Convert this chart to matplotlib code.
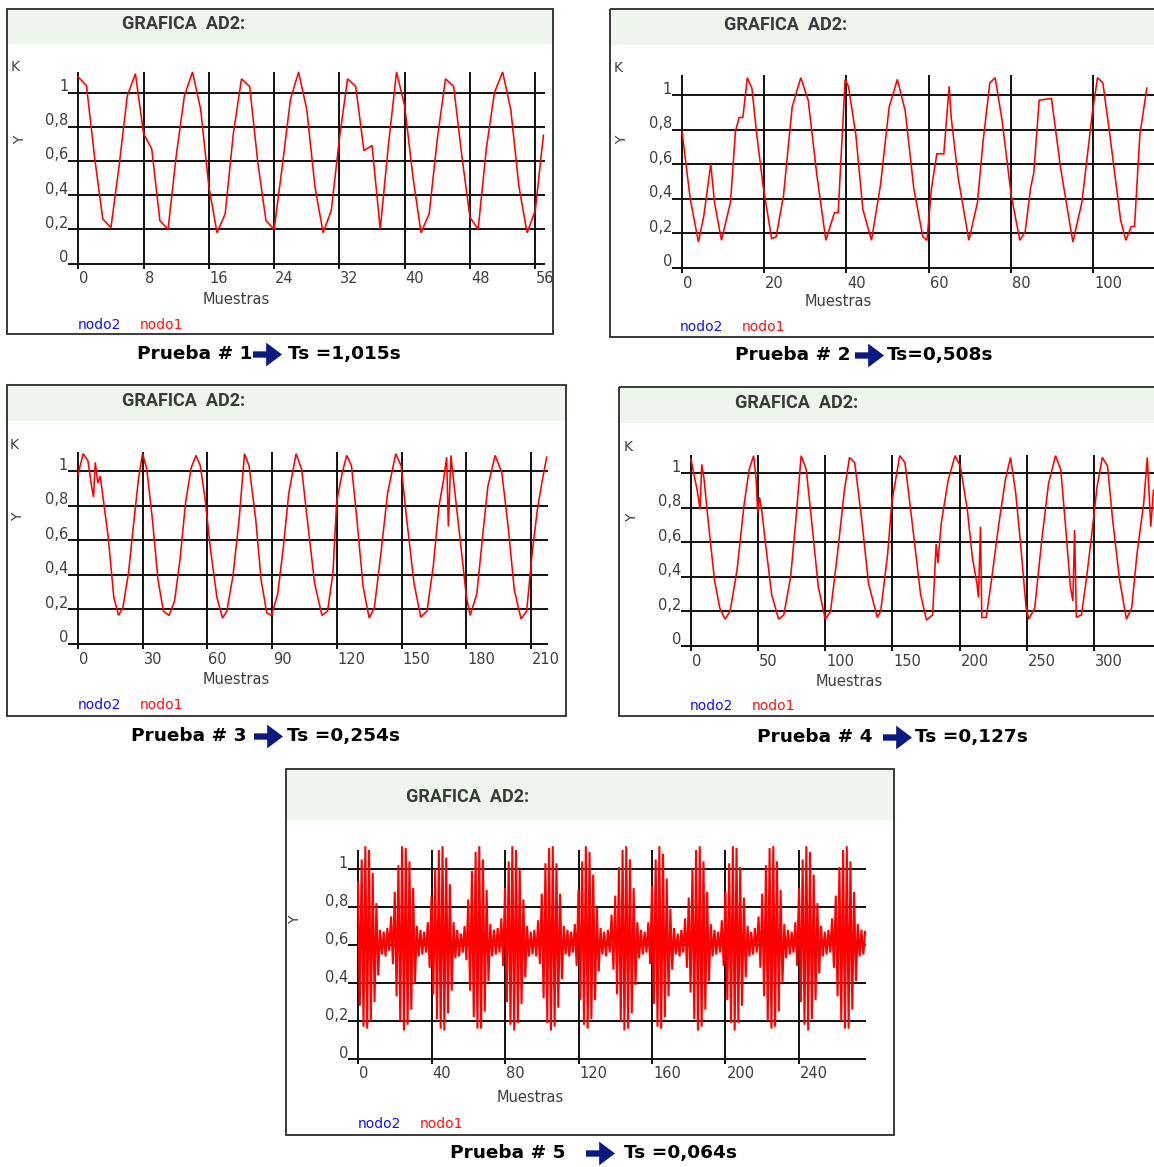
import matplotlib
matplotlib.use("Agg")
import matplotlib.pyplot as plt
from matplotlib.patches import Rectangle, FancyArrowPatch
import numpy as np

# ---------------- data ----------------
yticks = [0, 0.2, 0.4, 0.6, 0.8, 1.0]
ytick_labels = ["0", "0,2", "0,4", "0,6", "0,8", "1"]

p1_xticks = [0, 8, 16, 24, 32, 40, 48, 56]
p1_y = [1.09, 1.04, 0.62, 0.26, 0.21, 0.57, 0.98, 1.11, 0.76, 0.67,
        0.25, 0.20, 0.63, 0.98, 1.12, 0.90, 0.45, 0.18, 0.29, 0.76,
        1.08, 1.035, 0.59, 0.25, 0.20, 0.57, 0.96, 1.12, 0.90, 0.45,
        0.18, 0.31, 0.73, 1.08, 1.035, 0.66, 0.69, 0.20, 0.69, 1.12,
        0.92, 0.51, 0.18, 0.29, 0.73, 1.08, 1.035, 0.63, 0.27, 0.20,
        0.67, 1.00, 1.12, 0.90, 0.45, 0.18, 0.31, 0.75]

p2_xticks = [0, 20, 40, 60, 80, 100]
p2_x = [0, 2, 4, 5.3, 7, 7.9, 9.6, 11.8, 13, 13.9,
        14.8, 15.9, 17, 18.2, 19.7, 21.8, 22.9, 24.7, 26.8, 28.9,
        30.7, 32.8, 35, 37.1, 38, 39.7, 40.5, 42.3, 44, 46.1,
        48.3, 50.4, 52.4, 54.3, 56.4, 58.6, 59.6, 60.7, 62, 63.7,
        65, 65.5, 67.2, 69.8, 71.9, 73.2, 74.9, 76.2, 77.9, 80.1,
        82.2, 83.5, 84.8, 85.6, 86.9, 89.9, 92.1, 95.1, 97.3, 99.8,
        101.1, 102.4, 104.1, 106.7, 108, 109.3, 110.1, 111.4, 113.1]
p2_y = [0.79, 0.40, 0.15, 0.30, 0.60, 0.38, 0.16, 0.38, 0.79, 0.87,
        0.87, 1.10, 1.04, 0.77, 0.48, 0.17, 0.18, 0.42, 0.93, 1.10,
        0.97, 0.54, 0.16, 0.32, 0.32, 1.09, 1.05, 0.77, 0.34, 0.16,
        0.48, 0.93, 1.09, 0.91, 0.46, 0.18, 0.16, 0.46, 0.66, 0.66,
        1.05, 0.87, 0.52, 0.16, 0.38, 0.72, 1.07, 1.10, 0.85, 0.42,
        0.16, 0.21, 0.46, 0.55, 0.97, 0.98, 0.58, 0.15, 0.38, 0.89,
        1.10, 1.07, 0.77, 0.28, 0.16, 0.24, 0.24, 0.77, 1.04]

p3_xticks = [0, 30, 60, 90, 120, 150, 180, 210]
p3_x = [0, 2.4, 4.6, 6.3, 7.2, 8, 9.2, 10.3, 14, 16.6,
        18.8, 20.8, 23.4, 26, 28, 29.9, 31.9, 34.5, 37.1, 39.6,
        42.2, 44.8, 47.3, 49.9, 52.5, 54.7, 56.7, 58.8, 61.5, 64.4,
        67, 69, 71.8, 74.7, 77.2, 79.3, 82.4, 84.9, 87.5, 89.7,
        92.6, 95.2, 97.7, 101.1, 103.7, 106.3, 109.7, 113.1, 115.7, 118.2,
        119.9, 122.5, 124.6, 126.8, 129.3, 132.2, 135, 137.4, 140.4, 143.5,
        147.3, 149.8, 152.4, 155.8, 158.9, 161.8, 164.7, 167.4, 169.5, 170.9,
        171.7, 172.9, 174.6, 177.2, 180.1, 181.8, 184.9, 187.4, 190, 193.4,
        196.5, 199.4, 202.3, 205.4, 208, 210.5, 213, 215.3, 217.3]
p3_y = [0.98, 1.10, 1.06, 0.91, 0.85, 1.05, 0.93, 0.97, 0.62, 0.27,
        0.165, 0.21, 0.41, 0.72, 0.95, 1.10, 1.01, 0.72, 0.37, 0.19,
        0.165, 0.25, 0.49, 0.82, 1.02, 1.09, 1.03, 0.85, 0.54, 0.27,
        0.15, 0.19, 0.39, 0.72, 1.10, 1.03, 0.72, 0.37, 0.18, 0.165,
        0.29, 0.56, 0.87, 1.10, 1.01, 0.72, 0.35, 0.165, 0.19, 0.41,
        0.82, 0.99, 1.09, 1.03, 0.72, 0.33, 0.15, 0.21, 0.52, 0.87,
        1.10, 1.03, 0.72, 0.35, 0.155, 0.19, 0.45, 0.80, 0.95, 1.08,
        0.68, 1.09, 0.89, 0.60, 0.27, 0.165, 0.29, 0.60, 0.91, 1.09,
        0.99, 0.68, 0.31, 0.145, 0.19, 0.52, 0.78, 0.95, 1.08]

p4_xticks = [0, 50, 100, 150, 200, 250, 300]
p4_x = [0, 1.5, 4.6, 6.7, 8, 9.8, 11.9, 17.5, 21.4, 25.3,
        29.1, 34.3, 39.4, 43.3, 46.6, 48.5, 49.7, 51, 52.6, 54.9,
        60, 65.2, 69.1, 74.2, 78.1, 82, 85.8, 89.7, 94.8, 100,
        103.9, 109, 114.2, 118, 121.9, 127.1, 132.2, 138.7, 141.2, 146.4,
        149.5, 155.4, 159.3, 164.4, 170.9, 175.3, 179.9, 182.5, 183.8, 186.3,
        191.5, 196.6, 200.5, 205.7, 209.5, 212.9, 214, 215.5, 216.5, 219.8,
        223.7, 228.9, 234, 237.9, 241.8, 245.6, 249.5, 251.5, 255.9, 261.1,
        266.2, 271.4, 275.3, 279.1, 282.5, 284.3, 285.6, 286.9, 290.7, 294.6,
        299, 302.3, 306.2, 310.1, 313.9, 319.1, 324.2, 328.1, 332, 337.1,
        339.7, 342.3, 344.3]
p4_y = [1.08, 1.02, 0.90, 0.79, 1.05, 0.96, 0.79, 0.38, 0.22, 0.155,
        0.20, 0.44, 0.81, 1.02, 1.10, 0.96, 0.77, 0.86, 0.79, 0.63,
        0.30, 0.155, 0.18, 0.40, 0.73, 1.10, 1.02, 0.73, 0.34, 0.155,
        0.20, 0.53, 0.90, 1.09, 1.06, 0.73, 0.36, 0.165, 0.20, 0.53,
        0.83, 1.10, 1.06, 0.73, 0.30, 0.15, 0.18, 0.59, 0.48, 0.71,
        0.96, 1.10, 1.04, 0.79, 0.51, 0.36, 0.28, 0.69, 0.165, 0.165,
        0.38, 0.69, 0.96, 1.09, 0.88, 0.57, 0.22, 0.155, 0.22, 0.61,
        0.94, 1.10, 1.02, 0.67, 0.34, 0.26, 0.67, 0.165, 0.18, 0.40,
        0.69, 0.92, 1.09, 1.04, 0.73, 0.38, 0.155, 0.22, 0.53, 0.83,
        1.09, 0.69, 0.90]

p5_xticks = [0, 40, 80, 120, 160, 200, 240]
p5_y = [0.93, 0.28, 1.05, 0.17, 1.12, 0.16, 1.10, 0.20, 0.98, 0.30, 0.82, 0.44, 0.68, 0.55, 0.67, 0.54, 0.69, 0.57, 0.75, 0.50,
        0.88, 0.33, 1.02, 0.20, 1.12, 0.15, 1.11, 0.18, 1.04, 0.26, 0.90, 0.40, 0.70, 0.54, 0.68, 0.55, 0.67, 0.56, 0.72, 0.48,
        0.86, 0.34, 1.00, 0.21, 1.10, 0.16, 1.12, 0.15, 1.06, 0.24, 0.92, 0.36, 0.72, 0.53, 0.68, 0.54, 0.66, 0.56, 0.70, 0.52,
        0.84, 0.36, 0.99, 0.22, 1.09, 0.16, 1.12, 0.16, 1.05, 0.25, 0.89, 0.41, 0.71, 0.54, 0.68, 0.55, 0.69, 0.56, 0.74, 0.49,
        0.90, 0.30, 1.04, 0.18, 1.12, 0.15, 1.10, 0.19, 1.00, 0.29, 0.84, 0.43, 0.70, 0.54, 0.67, 0.55, 0.68, 0.54, 0.73, 0.50,
        0.87, 0.32, 1.03, 0.19, 1.11, 0.15, 1.12, 0.17, 1.03, 0.27, 0.87, 0.42, 0.70, 0.55, 0.68, 0.54, 0.67, 0.56, 0.71, 0.49,
        0.89, 0.31, 1.04, 0.18, 1.12, 0.16, 1.09, 0.21, 0.97, 0.31, 0.80, 0.46, 0.69, 0.55, 0.67, 0.54, 0.68, 0.56, 0.76, 0.47,
        0.86, 0.34, 1.01, 0.20, 1.10, 0.15, 1.12, 0.16, 1.05, 0.24, 0.90, 0.39, 0.72, 0.53, 0.68, 0.55, 0.67, 0.56, 0.72, 0.50,
        0.91, 0.29, 1.05, 0.17, 1.12, 0.16, 1.08, 0.22, 0.95, 0.33, 0.79, 0.47, 0.69, 0.55, 0.66, 0.54, 0.68, 0.56, 0.74, 0.48,
        0.85, 0.35, 1.00, 0.21, 1.10, 0.15, 1.12, 0.17, 1.04, 0.26, 0.88, 0.41, 0.71, 0.54, 0.68, 0.55, 0.67, 0.56, 0.73, 0.49,
        0.88, 0.31, 1.03, 0.19, 1.12, 0.15, 1.11, 0.19, 1.01, 0.28, 0.85, 0.43, 0.70, 0.54, 0.67, 0.55, 0.69, 0.56, 0.75, 0.48,
        0.87, 0.33, 1.02, 0.20, 1.11, 0.16, 1.12, 0.17, 1.04, 0.25, 0.89, 0.40, 0.71, 0.53, 0.68, 0.55, 0.67, 0.56, 0.72, 0.49,
        0.90, 0.30, 1.05, 0.18, 1.12, 0.15, 1.09, 0.21, 0.97, 0.31, 0.82, 0.45, 0.70, 0.54, 0.67, 0.55, 0.68, 0.56, 0.74, 0.48,
        0.86, 0.33, 1.01, 0.20, 1.10, 0.16, 1.12, 0.16, 1.04, 0.26, 0.88, 0.41, 0.71, 0.54, 0.68, 0.55, 0.67]

titles = ["GRAFICA  AD2:"] * 5
captions_left = ["Prueba # 1", "Prueba # 2", "Prueba # 3", "Prueba # 4", "Prueba # 5"]
captions_right = ["Ts =1,015s", "Ts=0,508s", "Ts =0,254s", "Ts =0,127s", "Ts =0,064s"]
x_label = "Muestras"
legend_names = ["nodo2", "nodo1"]

series = [
    (list(range(len(p1_y))), p1_y, p1_xticks),
    (p2_x, p2_y, p2_xticks),
    (p3_x, p3_y, p3_xticks),
    (p4_x, p4_y, p4_xticks),
    (list(range(len(p5_y))), p5_y, p5_xticks),
]

# ---------------- layout (pixels) ----------------
W, H = 1154, 1167
layout = [
    dict(box=(7, 9, 553, 334), hdr=44, ox=78.3, kx=8.16, oy=263.5, ky=171, xmax=57.2, vmax=1.12,
         title=(122, 24), K=(15, 67), Y=(20, 140), mu=(236, 300), leg=(78, 325),
         cap=(137, 253, 288, 354), lw=1.15),
    dict(box=(610, 9, 1160, 337), hdr=45, ox=682, kx=4.11, oy=268, ky=173, xmax=114.8, vmax=1.116,
         title=(724, 25), K=(618, 68), Y=(622, 140), mu=(838, 302), leg=(680, 327),
         cap=(735, 855, 887, 355), lw=1.15),
    dict(box=(7, 385, 566, 716), hdr=421, ox=78, kx=2.157, oy=644, ky=173, xmax=217.9, vmax=1.11,
         title=(122, 401), K=(14, 445), Y=(18, 517), mu=(236, 680), leg=(78, 705),
         cap=(131, 254, 287, 736), lw=1.15),
    dict(box=(619, 387, 1160, 716), hdr=423, ox=691, kx=1.3433, oy=646, ky=173, xmax=344.7, vmax=1.104,
         title=(735, 403), K=(628, 447), Y=(632, 518), mu=(849, 681), leg=(690, 706),
         cap=(757, 883, 915, 737), lw=1.15),
    dict(box=(286, 769, 894, 1135), hdr=820, ox=358, kx=1.8375, oy=1059, ky=190, xmax=276.5, vmax=1.10,
         title=(406, 797), K=None, Y=(295, 920), mu=(530, 1097), leg=(358, 1124),
         cap=(450, 586, 624, 1153), lw=1.5),
]

fig = plt.figure(figsize=(W / 100, H / 100), dpi=100)
fig.patch.set_facecolor("white")
bg = fig.add_axes([0, 0, 1, 1], zorder=0)
bg.set_xlim(0, W)
bg.set_ylim(H, 0)
bg.axis("off")

TXT = "#3d3d3d"
for L, (xs, ys, xt), title, capl, capr in zip(layout, series, titles, captions_left, captions_right):
    x0, y0, x1, y1 = L["box"]
    bg.add_patch(Rectangle((x0 + 1, y0 + 1), x1 - x0 - 2, L["hdr"] - y0 - 1, facecolor="#edf5ed",
                           edgecolor="none", zorder=1))
    bg.add_patch(Rectangle((x0, y0), x1 - x0, y1 - y0, facecolor="none", edgecolor="#2a2a2a",
                           lw=1.3, zorder=2))
    bg.text(L["title"][0], L["title"][1], title, family="Roboto", weight="bold", fontsize=13,
            color="#3a3a3a", ha="left", va="center")
    if L["K"] is not None:
        bg.text(L["K"][0], L["K"][1], "K", fontsize=10, color=TXT, ha="center", va="center")
    bg.text(L["Y"][0], L["Y"][1], "Y", fontsize=10, color=TXT, ha="center", va="center", rotation=90)
    bg.text(L["mu"][0], L["mu"][1], x_label, fontsize=10.5, color=TXT, ha="center", va="center")
    bg.text(L["leg"][0], L["leg"][1], legend_names[0], fontsize=10, color="#1010ff", ha="left", va="center")
    bg.text(L["leg"][0] + 62, L["leg"][1], legend_names[1], fontsize=10, color="#ff1010", ha="left", va="center")
    cx0, cxa, cxt, cy = L["cap"]
    bg.text(cx0, cy, capl, family="DejaVu Sans", weight="bold", fontsize=13.3, color="black",
            ha="left", va="center")
    bg.add_patch(FancyArrowPatch((cxa, cy + 0.5), (cxa + 29, cy + 0.5),
                                 arrowstyle="simple,head_length=0.6,head_width=0.9,tail_width=0.24",
                                 mutation_scale=19, color="#0b1a80", lw=0,
                                 shrinkA=0, shrinkB=0, zorder=3))
    bg.text(cxt, cy, capr, family="DejaVu Sans", weight="bold", fontsize=13.3, color="black",
            ha="left", va="center")

    # plot axes in data units
    ox, kx, oy, ky = L["ox"], L["kx"], L["oy"], L["ky"]
    lpad, bpad = 10.0, 5.0
    left_px = ox - lpad
    right_px = min(ox + L["xmax"] * kx, W)
    top_px = oy - L["vmax"] * ky
    bot_px = oy + bpad
    ax = fig.add_axes([left_px / W, 1 - bot_px / H, (right_px - left_px) / W, (bot_px - top_px) / H],
                      zorder=3)
    xlo = -lpad / kx
    ylo = -bpad / ky
    ax.set_xlim(xlo, L["xmax"])
    ax.set_ylim(ylo, L["vmax"])
    ax.axis("off")
    ax.patch.set_alpha(0)
    ax.hlines(yticks, xlo, L["xmax"], color="#111111", lw=1.4, zorder=1)
    ax.vlines(xt, ylo, L["vmax"], color="#111111", lw=1.4, zorder=1)
    ax.plot(xs, ys, color="#ff0000", lw=L["lw"], zorder=2, clip_on=False, solid_joinstyle="miter")
    for v, lab in zip(yticks, ytick_labels):
        ax.text(xlo, v + 1.5 / ky, lab, fontsize=10.5, color=TXT, ha="right", va="baseline")
    for t in xt:
        ax.text(t + 1.0 / kx, -15.0 / ky, str(t), fontsize=10.5, color=TXT, ha="left", va="center",
                clip_on=False)

fig.savefig("out.png", dpi=100, facecolor="white")
